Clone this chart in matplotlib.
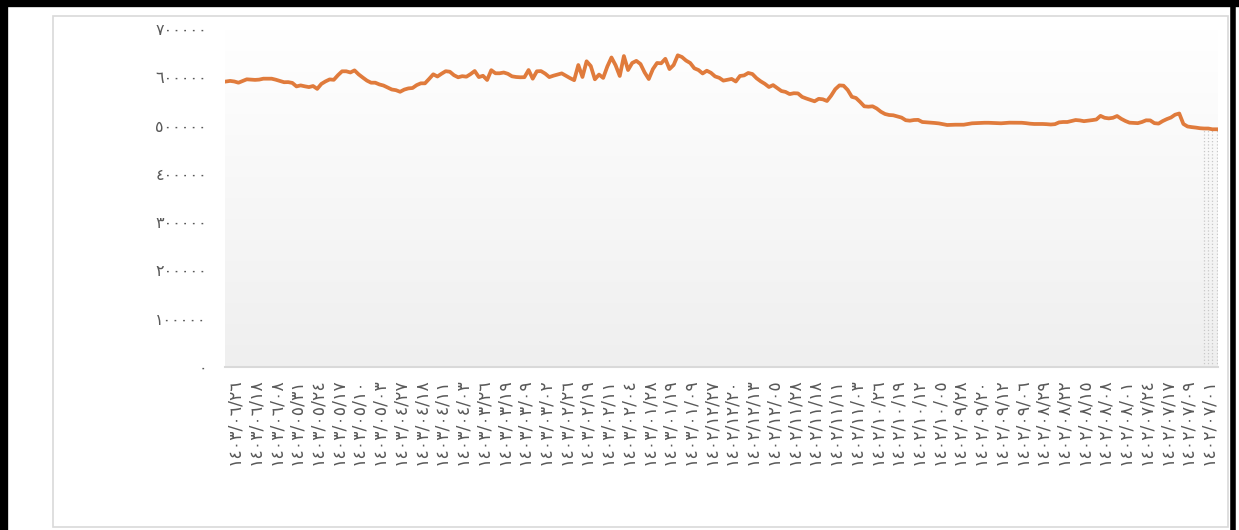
import numpy as np
import matplotlib
matplotlib.use("Agg")
import matplotlib.pyplot as plt
from matplotlib.colors import LinearSegmentedColormap
from matplotlib.patches import Rectangle
from matplotlib.lines import Line2D

plt.rcParams['font.family'] = ['DejaVu Sans']

# === data (values in thousands, newest at left) ===
index_k = [
    591.3, 592.5, 591.3, 588.8, 592.3, 595.8, 595.2, 594.6, 595.2, 597.1,
    597.1, 597.1, 595.0, 592.3, 589.8, 590.0, 588.3, 581.1, 583.2, 581.3,
    579.7, 581.9, 576.0, 586.3, 591.5, 595.6, 594.8, 604.3, 612.4, 612.4,
    610.0, 614.3, 606.0, 599.4, 593.1, 588.8, 588.8, 585.2, 582.9, 578.9,
    574.7, 573.3, 570.0, 574.5, 577.0, 577.8, 583.8, 587.5, 587.5, 596.6,
    606.2, 601.6, 607.4, 612.6, 611.5, 604.3, 600.0, 602.3, 601.2, 606.6,
    613.0, 600.4, 603.1, 594.4, 614.7, 608.3, 608.3, 609.9, 607.2, 602.0,
    600.6, 600.0, 600.2, 615.0, 597.1, 612.4, 612.8, 607.6, 600.4, 603.3,
    605.8, 608.1, 603.1, 598.3, 594.0, 625.4, 600.6, 633.1, 623.4, 595.8,
    605.6, 598.7, 622.3, 641.0, 624.8, 602.7, 644.0, 615.0, 629.6, 634.0,
    627.5, 610.0, 596.4, 617.0, 629.6, 629.0, 638.3, 617.0, 625.4, 645.5,
    642.0, 634.6, 629.6, 618.6, 615.0, 607.9, 613.6, 609.3, 601.8, 598.9,
    593.1, 594.8, 596.6, 591.3, 602.7, 603.9, 608.9, 606.8, 598.1, 591.7,
    586.5, 579.9, 583.8, 577.8, 571.6, 569.7, 565.2, 567.0, 566.6, 559.4,
    556.1, 553.2, 550.3,
    555.4, 554.4, 550.9, 561.9, 575.3, 583.2, 582.6, 573.7, 559.6, 557.1,
    549.0, 539.9, 539.1, 539.9, 535.4, 528.7, 524.0, 521.9, 521.3, 518.8,
    516.5, 511.1, 510.1, 511.5, 511.8, 507.4, 506.8, 506.2, 505.4, 504.5,
    502.9, 501.2, 501.6, 501.8, 501.8, 501.8, 503.3, 504.7, 505.1, 505.4,
    505.8, 505.8, 505.4, 505.0, 504.7, 505.4, 506.0, 506.0, 506.0, 505.8,
    505.0, 503.9, 503.3, 503.3, 503.3, 502.9, 502.2, 502.9, 506.6, 507.4,
    507.4, 509.5, 511.5, 510.7,
    509.1, 510.1, 511.3, 512.6, 520.1, 516.1, 514.9, 516.1, 519.8, 514.0,
    509.5, 506.0, 505.4, 505.0, 507.4, 510.9, 510.7, 505.0, 504.1, 509.3,
    513.4, 516.7, 522.5, 525.0, 503.3, 498.1, 496.8, 495.8, 494.5, 493.9,
    493.9, 492.3, 492.3,
]

date_labels = [
    "١٤٠٣/٠٦/٢٦", "١٤٠٣/٠٦/١٨", "١٤٠٣/٠٦/٠٨", "١٤٠٣/٠٥/٣١", "١٤٠٣/٠٥/٢٤",
    "١٤٠٣/٠٥/١٧", "١٤٠٣/٠٥/١٠", "١٤٠٣/٠٥/٠٣", "١٤٠٣/٠٤/٢٧", "١٤٠٣/٠٤/١٨",
    "١٤٠٣/٠٤/١١", "١٤٠٣/٠٤/٠٣", "١٤٠٣/٠٣/٢٦", "١٤٠٣/٠٣/١٩", "١٤٠٣/٠٣/٠٩",
    "١٤٠٣/٠٣/٠٢", "١٤٠٣/٠٢/٢٦", "١٤٠٣/٠٢/١٩", "١٤٠٣/٠٢/١١", "١٤٠٣/٠٢/٠٤",
    "١٤٠٣/٠١/٢٨", "١٤٠٣/٠١/١٩", "١٤٠٣/٠١/٠٩", "١٤٠٢/١٢/٢٧", "١٤٠٢/١٢/٢٠",
    "١٤٠٢/١٢/١٣", "١٤٠٢/١٢/٠٥", "١٤٠٢/١١/٢٨", "١٤٠٢/١١/١٨", "١٤٠٢/١١/١١",
    "١٤٠٢/١١/٠٣", "١٤٠٢/١٠/٢٦", "١٤٠٢/١٠/١٩", "١٤٠٢/١٠/١٢", "١٤٠٢/١٠/٠٥",
    "١٤٠٢/٠٩/٢٨", "١٤٠٢/٠٩/٢٠", "١٤٠٢/٠٩/١٢", "١٤٠٢/٠٩/٠٦", "١٤٠٢/٠٨/٢٩",
    "١٤٠٢/٠٨/٢٢", "١٤٠٢/٠٨/١٥", "١٤٠٢/٠٨/٠٨", "١٤٠٢/٠٨/٠١", "١٤٠٢/٠٧/٢٤",
    "١٤٠٢/٠٧/١٧", "١٤٠٢/٠٧/٠٩", "١٤٠٢/٠٧/٠١",
]

y_ticks = [0, 100000, 200000, 300000, 400000, 500000, 600000, 700000]
y_labels = ["٠", "١٠٠٠٠٠", "٢٠٠٠٠٠", "٣٠٠٠٠٠", "٤٠٠٠٠٠", "٥٠٠٠٠٠", "٦٠٠٠٠٠", "٧٠٠٠٠٠"]

values = np.array(index_k) * 1000
x = np.arange(len(values))
label_pos = x[2::5][:len(date_labels)]

W, H = 1239, 530
fig = plt.figure(figsize=(W / 100, H / 100), dpi=100)
fig.patch.set_facecolor('white')

# chart area border
fig.patches.append(Rectangle((53 / W, 3 / H), (1228 - 53) / W, (514 - 3) / H,
                             transform=fig.transFigure, fill=False,
                             edgecolor='#d9d9d9', lw=1.2, zorder=0))
# black frame: top, left, right
for xs, ys, w in [([0, 1236 / W], [1 - 3 / H, 1 - 3 / H], 6),
                  ([4 / W, 4 / W], [0, 1], 6),
                  ([1233 / W, 1233 / W], [0, 1], 4)]:
    fig.lines.append(Line2D(xs, ys, transform=fig.transFigure, color='black', lw=w))

ax = fig.add_axes([225 / W, 1 - 367 / H, (1218 - 225) / W, (367 - 29) / H])

# gradient plot area
cmap = LinearSegmentedColormap.from_list('bg', ['#ffffff', '#efefef'])
grad = np.linspace(0, 1, 256).reshape(-1, 1)
ax.imshow(grad, cmap=cmap, aspect='auto', extent=[0, 1, 0, 1],
          transform=ax.transAxes, zorder=0, vmin=0, vmax=1)

ax.plot(x, values, color='#E07B3C', lw=2.7, solid_joinstyle='round', zorder=3)
ax.vlines(x[-4:], 0, values[-4:], colors='#c8c8c8', linestyles=':', lw=0.9, zorder=2)

ax.set_xlim(-0.25, len(values) - 0.65)
ax.set_ylim(0, 700000)

ax.set_yticks(y_ticks)
ax.set_yticklabels(y_labels)
ax.set_xticks(label_pos)
ax.set_xticklabels(date_labels, rotation=90)

ax.tick_params(axis='y', length=0, pad=13, labelsize=11.5, labelcolor='#595959')
ax.tick_params(axis='x', length=0, pad=8, labelsize=12.5, labelcolor='#595959')

for s in ['top', 'right', 'left']:
    ax.spines[s].set_visible(False)
ax.spines['bottom'].set_color('#d9d9d9')
ax.spines['bottom'].set_linewidth(1.5)

fig.savefig('out.png', dpi=100)
